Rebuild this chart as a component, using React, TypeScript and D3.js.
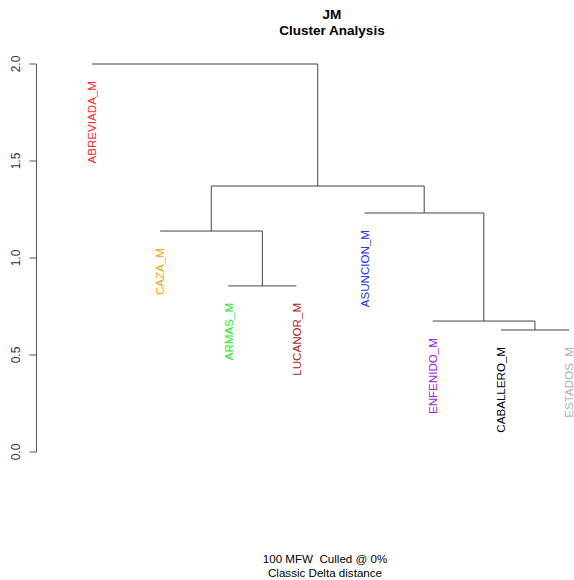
import React from "react";
import * as d3 from "d3";

const leafLabels = ["ABREVIADA_M", "CAZA_M", "ARMAS_M", "LUCANOR_M", "ASUNCION_M", "ENFENIDO_M", "CABALLERO_M", "ESTADOS_M"];
const leafColors = ["#ff2a2a", "#ffa500", "#22ee22", "#a52a2a", "#2233ff", "#a020f0", "#000000", "#b0b0b0"];
// hclust-style merges: negative = leaf (1-based), positive = earlier merge (1-based)
const mergeLeft = [-3, -7, -6, -2, -5, 4, -1];
const mergeRight = [-4, -8, 2, 1, 3, 5, 6];
const mergeHeights = [0.856, 0.629, 0.675, 1.139, 1.232, 1.371, 2.0];
const yTicks = [0, 0.5, 1, 1.5, 2];
const titleLines = ["JM", "Cluster Analysis"];
const subLines = ["100 MFW\u00a0\u00a0Culled @ 0%", "Classic Delta distance"];

export default function App() {
  const W = 574, H = 580;
  const x = d3.scaleLinear().domain([1, 8]).range([92, 569]);
  const y = d3.scaleLinear().domain([0, 2]).range([452, 64]);

  const nodeX: number[] = [];
  const segs: { x1: number; y1: number; x2: number; y2: number }[] = [];
  const leafH: number[] = new Array(leafLabels.length).fill(0);
  const posOf = (id: number) => (id < 0 ? x(-id) : nodeX[id - 1]);

  mergeHeights.forEach((h, i) => {
    const l = mergeLeft[i], r = mergeRight[i];
    const xl = posOf(l), xr = posOf(r);
    nodeX[i] = (xl + xr) / 2;
    segs.push({ x1: xl, y1: y(h), x2: xr, y2: y(h) });
    [l, r].forEach((c) => {
      if (c < 0) leafH[-c - 1] = h;
      else segs.push({ x1: posOf(c), y1: y(h), x2: posOf(c), y2: y(mergeHeights[c - 1]) });
    });
  });

  const font = "Liberation Sans, Arial, sans-serif";

  return (
    <svg width={W} height={H} style={{ position: "absolute", left: 0, top: 0 }} fontFamily={font}>
      <rect width={W} height={H} fill="#fff" />
      {titleLines.map((t, i) => (
        <text key={t} x={332} y={19 + i * 16} textAnchor="middle" fontWeight="bold" fontSize={13.5} fill="#000">{t}</text>
      ))}
      {subLines.map((t, i) => (
        <text key={t} x={325} y={563 + i * 14} textAnchor="middle" fontSize={11.6} fill="#000">{t}</text>
      ))}
      <g stroke="#444" strokeWidth={1} fill="none">
        {segs.map((s, i) => (
          <line key={i} x1={s.x1} y1={s.y1} x2={s.x2} y2={s.y2} />
        ))}
      </g>
      <line x1={36.5} x2={36.5} y1={y(0)} y2={y(2)} stroke="#555" />
      {yTicks.map((t) => (
        <g key={t}>
          <line x1={29.5} x2={36.5} y1={y(t)} y2={y(t)} stroke="#555" />
          <text transform={`translate(${19.5},${y(t)}) rotate(-90)`} textAnchor="middle" fontSize={12} fill="#333">{d3.format(".1f")(t)}</text>
        </g>
      ))}
      {leafLabels.map((lab, i) => (
        <text key={lab} transform={`translate(${x(i + 1) + 4.3},${y(leafH[i]) + 17}) rotate(-90)`} textAnchor="end" fontSize={11.6} fill={leafColors[i]}>{lab}</text>
      ))}
    </svg>
  );
}
